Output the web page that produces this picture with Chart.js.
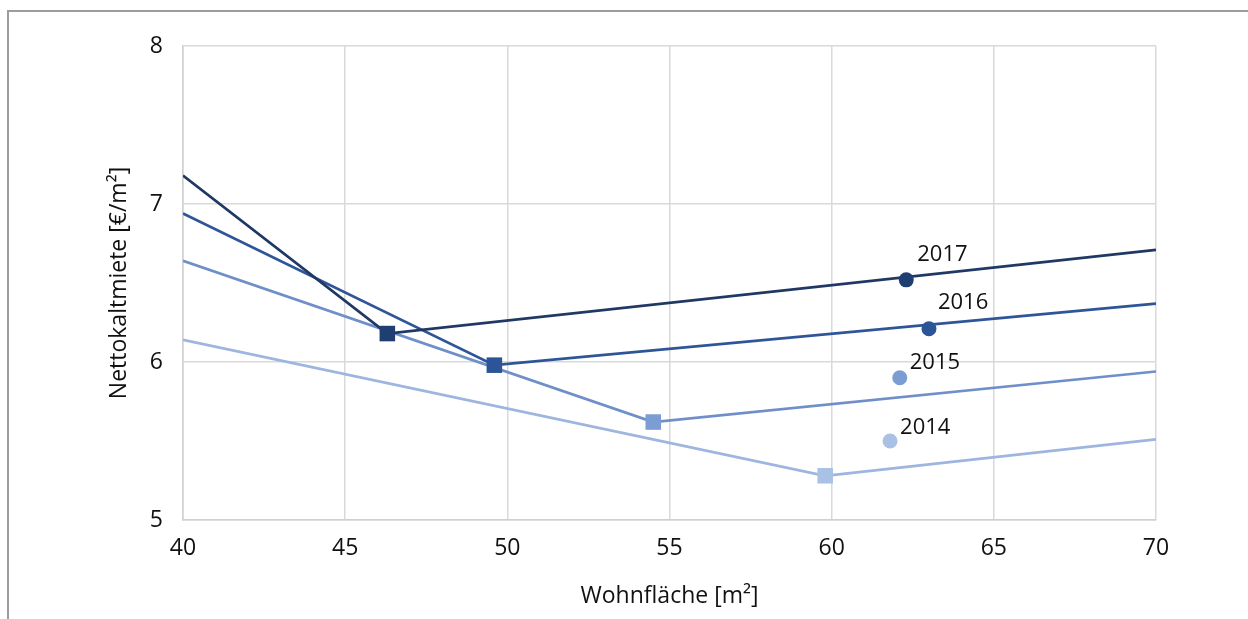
<!DOCTYPE html>
<html lang="de">
<head>
    <meta charset="UTF-8">
    <title>Nettokaltmiete nach Wohnfläche</title>
    <script src="https://cdn.jsdelivr.net/npm/chart.js@4.4.0/dist/chart.umd.min.js"></script>
    <style>
        * {
            margin: 0;
            padding: 0;
            box-sizing: border-box;
        }

        body {
            background: #ffffff;
            width: 1248px;
            height: 619px;
            overflow: hidden;
            position: relative;
        }

        .frame {
            position: absolute;
            left: 7px;
            top: 10px;
            right: 0;
            bottom: 0;
            border-top: 2px solid #9c9c9c;
            border-left: 2px solid #9c9c9c;
        }

        #chart {
            position: absolute;
            left: 0;
            top: 0;
        }
    </style>
</head>
<body>
    <div class="frame"></div>
    <canvas id="chart" width="1248" height="619"></canvas>

    <script>
        // Data
        const years = ['2017', '2016', '2015', '2014'];
        const xStart = [40, 40, 40, 40];
        const yStart = [7.18, 6.94, 6.64, 6.14];
        const xKink = [46.3, 49.6, 54.5, 59.8];
        const yKink = [6.18, 5.98, 5.62, 5.28];
        const xEnd = [70, 70, 70, 70];
        const yEnd = [6.71, 6.37, 5.94, 5.51];
        const xDot = [62.3, 63.0, 62.1, 61.8];
        const yDot = [6.52, 6.21, 5.90, 5.50];

        const xTicks = [40, 45, 50, 55, 60, 65, 70];
        const yTicks = [5, 6, 7, 8];

        // Styles
        const lineColors = ['#1f3864', '#2e5597', '#6f8fc9', '#9db5df'];
        const markColors = ['#1f3e72', '#2b5597', '#7c9dd3', '#a9c1e5'];
        const labelOffsets = [[11, -25], [9, -26], [10, -15], [10, -13]];
        const fontFamily = '"Open Sans", "Liberation Sans", Arial, sans-serif';
        const textColor = '#111111';

        const datasets = [];

        // year dots (drawn on top)
        years.forEach((year, i) => {
            datasets.push({
                label: year + ' Punkt',
                data: [{ x: xDot[i], y: yDot[i] }],
                showLine: false,
                pointStyle: 'circle',
                pointRadius: 7.5,
                backgroundColor: markColors[i],
                borderColor: markColors[i],
                borderWidth: 0,
                yearLabel: year,
                labelOffset: labelOffsets[i]
            });
        });

        // broken lines with square marker at the kink
        years.forEach((year, i) => {
            datasets.push({
                label: year,
                data: [
                    { x: xStart[i], y: yStart[i] },
                    { x: xKink[i], y: yKink[i] },
                    { x: xEnd[i], y: yEnd[i] }
                ],
                showLine: true,
                borderColor: lineColors[i],
                borderWidth: 2.7,
                tension: 0,
                pointStyle: 'rect',
                pointRadius: [0, 11, 0],
                pointBackgroundColor: markColors[i],
                pointBorderColor: markColors[i],
                pointBorderWidth: 0
            });
        });

        // text next to the dots
        const yearLabels = {
            id: 'yearLabels',
            afterDatasetsDraw(chart) {
                const ctx = chart.ctx;
                ctx.save();
                ctx.font = '22px ' + fontFamily;
                ctx.fillStyle = textColor;
                ctx.textAlign = 'left';
                ctx.textBaseline = 'middle';
                chart.data.datasets.forEach((ds, i) => {
                    if (!ds.yearLabel) return;
                    const pt = chart.getDatasetMeta(i).data[0];
                    ctx.fillText(ds.yearLabel, pt.x + ds.labelOffset[0], pt.y + ds.labelOffset[1]);
                });
                ctx.restore();
            }
        };

        new Chart(document.getElementById('chart'), {
            type: 'scatter',
            data: { datasets: datasets },
            plugins: [yearLabels],
            options: {
                responsive: false,
                animation: false,
                devicePixelRatio: 1,
                layout: {
                    padding: { left: 0, top: 46, right: 92, bottom: 0 }
                },
                plugins: {
                    legend: { display: false },
                    tooltip: { enabled: false }
                },
                scales: {
                    x: {
                        type: 'linear',
                        min: 40,
                        max: 70,
                        afterBuildTicks: (scale) => {
                            scale.ticks = xTicks.map(v => ({ value: v }));
                        },
                        afterFit: (scale) => { scale.height = 99; },
                        grid: {
                            color: '#d9d9d9',
                            lineWidth: 1.5,
                            drawTicks: false
                        },
                        border: { color: '#d0d0d0', width: 1.5 },
                        ticks: {
                            padding: 15,
                            color: textColor,
                            font: { family: fontFamily, size: 23 }
                        },
                        title: {
                            display: true,
                            text: 'Wohnfläche [m²]',
                            color: textColor,
                            font: { family: fontFamily, size: 23 },
                            padding: { top: 0, bottom: 9 }
                        }
                    },
                    y: {
                        type: 'linear',
                        min: 5,
                        max: 8,
                        afterBuildTicks: (scale) => {
                            scale.ticks = yTicks.map(v => ({ value: v }));
                        },
                        afterFit: (scale) => { scale.width = 183; },
                        grid: {
                            color: '#d9d9d9',
                            lineWidth: 1.5,
                            drawTicks: false
                        },
                        border: { color: '#d0d0d0', width: 1.5 },
                        ticks: {
                            padding: 20,
                            color: textColor,
                            font: { family: fontFamily, size: 23 }
                        },
                        title: {
                            display: true,
                            text: 'Nettokaltmiete [€/m²]',
                            color: textColor,
                            font: { family: fontFamily, size: 23 },
                            padding: { top: 106, bottom: 0 }
                        }
                    }
                }
            }
        });
    </script>
</body>
</html>
